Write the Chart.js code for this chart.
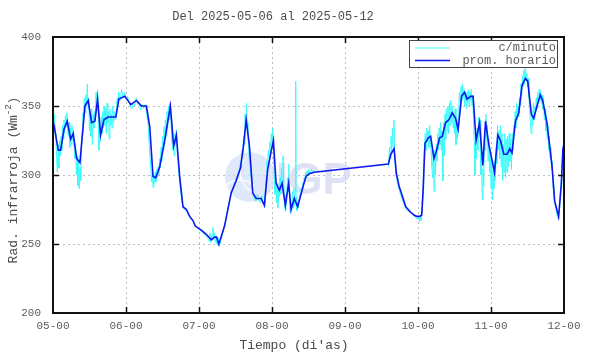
<!DOCTYPE html>
<html>
<head>
<meta charset="utf-8">
<script src="https://cdn.jsdelivr.net/npm/chart.js@4/dist/chart.umd.min.js"></script>
<style>
  html, body { margin: 0; padding: 0; background: #fff; }
  #wrap { width: 590px; height: 354px; }
</style>
</head>
<body>
<div id="wrap"><canvas id="irChart"></canvas></div>
<script>
const chartTitle = 'Del 2025-05-06 al 2025-05-12';
const xTitle = "Tiempo (di'as)";
const seriesLabels = ['c/minuto', 'prom. horario'];
const xTickLabels = ['05-00', '06-00', '07-00', '08-00', '09-00', '10-00', '11-00', '12-00'];
const yTicks = [200, 250, 300, 350, 400];

// prom. horario  [dia, W/m2]
const hourly = [
  [5.000, 338], [5.014, 336], [5.072, 318], [5.105, 318], [5.150, 333], [5.195, 339],
  [5.242, 326], [5.277, 330], [5.324, 312], [5.369, 309], [5.437, 350], [5.482, 354],
  [5.529, 338], [5.574, 339], [5.611, 355], [5.652, 329], [5.697, 340], [5.755, 342],
  [5.861, 342], [5.902, 355], [5.984, 357], [6.066, 351], [6.143, 354], [6.212, 350],
  [6.280, 350], [6.325, 335], [6.370, 299], [6.407, 298], [6.462, 306], [6.530, 325],
  [6.608, 350], [6.653, 321], [6.690, 329], [6.735, 299], [6.766, 284], [6.780, 277],
  [6.827, 275], [6.872, 270], [6.917, 267], [6.949, 263], [7.031, 260], [7.100, 257],
  [7.168, 253], [7.213, 255], [7.240, 255], [7.272, 250], [7.350, 263], [7.441, 287],
  [7.510, 296], [7.568, 305], [7.609, 321], [7.646, 340], [7.691, 321], [7.736, 287],
  [7.783, 283], [7.851, 283], [7.896, 278], [7.941, 304], [7.988, 317], [8.019, 325],
  [8.056, 294], [8.101, 289], [8.138, 294], [8.183, 278], [8.228, 294], [8.261, 275],
  [8.306, 283], [8.351, 277], [8.433, 293], [8.466, 299], [8.511, 301], [8.579, 302],
  [9.594, 308], [9.627, 315], [9.672, 319], [9.704, 301], [9.740, 292], [9.777, 286],
  [9.832, 277], [9.900, 273], [9.945, 271], [9.982, 270], [10.023, 270], [10.051, 271],
  [10.068, 287], [10.096, 323], [10.141, 327], [10.173, 328], [10.219, 312], [10.250, 317],
  [10.296, 327], [10.332, 328], [10.378, 338], [10.423, 340], [10.469, 345], [10.515, 341],
  [10.550, 333], [10.597, 357], [10.638, 360], [10.673, 355], [10.720, 357], [10.755, 357],
  [10.796, 325], [10.843, 338], [10.888, 307], [10.925, 339], [10.970, 322], [11.048, 302],
  [11.093, 329], [11.130, 325], [11.175, 315], [11.220, 315], [11.257, 319], [11.288, 316],
  [11.335, 339], [11.380, 345], [11.425, 365], [11.471, 370], [11.503, 368], [11.553, 344],
  [11.585, 341], [11.630, 350], [11.676, 358], [11.708, 354], [11.766, 338], [11.835, 307],
  [11.872, 281], [11.926, 270], [11.963, 293], [11.985, 319], [12.000, 322]
];

// c/minuto  [dia, W/m2]  (null = sin datos)
const minute = [
  [5.00, 342], [5.01, 336], [5.02, 344], [5.03, 330], [5.04, 326], [5.05, 312], [5.06, 302], [5.07, 322],
  [5.08, 305], [5.09, 325], [5.10, 314], [5.11, 328], [5.12, 318], [5.13, 336], [5.14, 326], [5.15, 340],
  [5.16, 330], [5.17, 343], [5.18, 335], [5.19, 345], [5.20, 332], [5.21, 328], [5.22, 338], [5.23, 320],
  [5.24, 334], [5.25, 322], [5.26, 336], [5.27, 325], [5.28, 333], [5.29, 318], [5.30, 312], [5.31, 322],
  [5.32, 300], [5.33, 314], [5.34, 292], [5.35, 310], [5.36, 290], [5.37, 306], [5.38, 296], [5.39, 318],
  [5.40, 330], [5.41, 345], [5.42, 338], [5.43, 356], [5.44, 345], [5.45, 358], [5.46, 350], [5.47, 366],
  [5.48, 348], [5.49, 356], [5.50, 332], [5.51, 345], [5.52, 328], [5.53, 348], [5.54, 322], [5.55, 344],
  [5.56, 334], [5.57, 346], [5.58, 340], [5.59, 360], [5.60, 348], [5.61, 362], [5.62, 340], [5.63, 318],
  [5.64, 336], [5.65, 324], [5.66, 342], [5.67, 330], [5.68, 346], [5.69, 334], [5.70, 350], [5.71, 336],
  [5.72, 348], [5.73, 330], [5.74, 352], [5.75, 338], [5.76, 346], [5.77, 326], [5.78, 348], [5.79, 336],
  [5.80, 344], [5.81, 334], [5.82, 350], [5.83, 338], [5.84, 346], [5.85, 340], [5.86, 344], [5.87, 350],
  [5.88, 356], [5.89, 352], [5.90, 360], [5.92, 354], [5.94, 362], [5.96, 356], [5.98, 360], [6.00, 355],
  [6.02, 357], [6.04, 353], [6.06, 350], [6.08, 348], [6.10, 352], [6.12, 350], [6.14, 356], [6.16, 351],
  [6.18, 353], [6.20, 347], [6.22, 351], [6.24, 348], [6.26, 351], [6.28, 346], [6.30, 338], [6.32, 320],
  [6.34, 305], [6.35, 295], [6.36, 302], [6.37, 291], [6.38, 300], [6.39, 294], [6.40, 302], [6.41, 295],
  [6.42, 304], [6.43, 298], [6.44, 306], [6.45, 300], [6.46, 312], [6.47, 305], [6.48, 320], [6.49, 310],
  [6.50, 328], [6.51, 318], [6.52, 335], [6.53, 322], [6.54, 340], [6.55, 328], [6.56, 346], [6.57, 334],
  [6.58, 350], [6.59, 340], [6.60, 352], [6.61, 344], [6.62, 336], [6.63, 324], [6.64, 318], [6.65, 326],
  [6.66, 314], [6.67, 330], [6.68, 322], [6.69, 333], [6.70, 320], [6.72, 305], [6.74, 292], [6.76, 283],
  [6.78, 277], [6.80, 275], [6.83, 274], [6.86, 271], [6.89, 268], [6.92, 267], [6.95, 263], [6.98, 262],
  [7.01, 260], [7.04, 259], [7.07, 257], [7.10, 256], [7.12, 254], [7.14, 252], [7.15, 258], [7.16, 251],
  [7.17, 256], [7.18, 253], [7.19, 262], [7.20, 254], [7.21, 258], [7.22, 252], [7.23, 256], [7.24, 250],
  [7.25, 255], [7.26, 249], [7.27, 251], [7.28, 248], [7.30, 253], [7.33, 259], [7.36, 266], [7.40, 277],
  [7.44, 287], [7.48, 293], [7.52, 299], [7.55, 303], [7.57, 310], [7.58, 305], [7.59, 318], [7.60, 314],
  [7.61, 328], [7.62, 322], [7.63, 344], [7.64, 334], [7.65, 352], [7.66, 338], [7.67, 330], [7.68, 318],
  [7.69, 312], [7.70, 306], [7.72, 296], [7.74, 287], [7.76, 283], [7.78, 281], [7.80, 286], [7.82, 282],
  [7.84, 280], [7.86, 285], [7.88, 280], [7.90, 276], [7.91, 290], [7.92, 300], [7.93, 310], [7.94, 304],
  [7.95, 318], [7.96, 312], [7.97, 324], [7.98, 316], [7.99, 330], [8.00, 322], [8.01, 334], [8.02, 318],
  [8.03, 300], [8.04, 286], [8.05, 296], [8.06, 280], [8.07, 294], [8.08, 276], [8.09, 290], [8.10, 284],
  [8.11, 298], [8.12, 286], [8.13, 305], [8.14, 292], [8.15, 314], [8.16, 294], [8.17, 282], [8.18, 274],
  [8.19, 286], [8.20, 280], [8.21, 298], [8.22, 288], [8.23, 308], [8.24, 282], [8.25, 272], [8.26, 280],
  [8.27, 274], [8.28, 288], [8.29, 276], [8.30, 290], [8.31, 278], [8.32, 292], [8.325, 368], [8.33, 284],
  [8.34, 274], [8.35, 280], [8.36, 276], [8.37, 282], [8.38, 286], [8.39, 284], [8.40, 290], [8.41, 288],
  [8.42, 294], [8.43, 291], [8.44, 298], [8.45, 295], [8.46, 302], [8.47, 298], [8.48, 303], [8.49, 300],
  [8.50, 304], [8.52, 301], [8.54, 304], [8.56, 302], [8.58, 303], [9.00, null],
  [9.59, 306], [9.60, 310], [9.61, 320], [9.62, 312], [9.63, 328], [9.64, 316], [9.65, 334], [9.66, 320],
  [9.67, 340], [9.68, 318], [9.69, 305], [9.70, 300], [9.72, 294], [9.74, 290], [9.76, 286], [9.78, 283],
  [9.80, 280], [9.83, 276], [9.86, 274], [9.89, 273], [9.92, 272], [9.95, 270], [9.97, 269], [9.99, 268],
  [10.01, 270], [10.02, 266], [10.03, 271], [10.04, 267], [10.05, 272], [10.06, 276], [10.07, 290], [10.08, 310],
  [10.09, 322], [10.10, 330], [10.11, 318], [10.12, 334], [10.13, 324], [10.14, 332], [10.15, 320], [10.16, 336],
  [10.17, 322], [10.18, 318], [10.19, 306], [10.20, 298], [10.21, 310], [10.22, 288], [10.23, 318], [10.24, 300],
  [10.25, 322], [10.26, 310], [10.27, 330], [10.28, 318], [10.29, 334], [10.30, 322], [10.31, 338], [10.32, 318],
  [10.33, 332], [10.34, 296], [10.35, 338], [10.36, 314], [10.37, 344], [10.38, 326], [10.39, 348], [10.40, 332],
  [10.41, 350], [10.42, 330], [10.43, 352], [10.44, 336], [10.45, 354], [10.46, 338], [10.47, 350], [10.48, 334],
  [10.49, 346], [10.50, 330], [10.51, 348], [10.52, 322], [10.53, 340], [10.54, 326], [10.55, 342], [10.56, 352],
  [10.57, 360], [10.58, 352], [10.59, 364], [10.60, 354], [10.61, 366], [10.62, 356], [10.63, 362], [10.64, 350],
  [10.65, 358], [10.66, 348], [10.67, 360], [10.68, 352], [10.69, 362], [10.70, 350], [10.71, 360], [10.72, 354],
  [10.73, 362], [10.74, 350], [10.75, 358], [10.76, 340], [10.77, 324], [10.78, 300], [10.79, 320], [10.80, 312],
  [10.81, 334], [10.82, 318], [10.83, 342], [10.84, 328], [10.85, 340], [10.86, 300], [10.87, 318], [10.88, 282],
  [10.89, 304], [10.90, 292], [10.91, 330], [10.92, 318], [10.93, 344], [10.94, 326], [10.95, 336], [10.96, 310],
  [10.97, 326], [10.98, 302], [10.99, 318], [11.00, 290], [11.01, 312], [11.02, 282], [11.03, 304], [11.04, 290],
  [11.05, 310], [11.06, 296], [11.07, 320], [11.08, 308], [11.09, 336], [11.10, 318], [11.11, 332], [11.12, 312],
  [11.13, 336], [11.14, 306], [11.15, 330], [11.16, 296], [11.17, 322], [11.18, 302], [11.19, 330], [11.20, 298],
  [11.21, 326], [11.22, 302], [11.23, 328], [11.24, 306], [11.25, 330], [11.26, 310], [11.27, 326], [11.28, 304],
  [11.29, 330], [11.30, 318], [11.31, 336], [11.32, 330], [11.33, 346], [11.34, 334], [11.35, 352], [11.36, 340],
  [11.37, 350], [11.38, 342], [11.39, 356], [11.40, 350], [11.41, 366], [11.42, 358], [11.43, 372], [11.44, 364],
  [11.45, 376], [11.46, 366], [11.47, 382], [11.48, 368], [11.49, 374], [11.50, 364], [11.51, 370], [11.52, 356],
  [11.53, 348], [11.54, 338], [11.55, 330], [11.56, 346], [11.57, 336], [11.58, 352], [11.59, 340], [11.60, 350],
  [11.61, 344], [11.62, 356], [11.63, 348], [11.64, 360], [11.65, 352], [11.66, 362], [11.67, 354], [11.68, 360],
  [11.69, 352], [11.70, 358], [11.71, 348], [11.72, 356], [11.73, 340], [11.74, 348], [11.75, 332], [11.76, 342],
  [11.77, 326], [11.78, 336], [11.79, 318], [11.80, 328], [11.81, 312], [11.82, 320], [11.83, 304], [11.84, 310],
  [11.85, 292], [11.86, 286], [11.87, 282], [11.88, 278], [11.89, 276], [11.90, 272], [11.91, 270], [11.92, 268],
  [11.93, 272], [11.94, 276], [11.95, 288], [11.96, 296], [11.97, 305], [11.98, 312], [11.99, 320], [12.00, 334]
];

const FONT = "'Liberation Mono', 'DejaVu Sans Mono', monospace";
const TEXT = '#5c5c5c';

const gnuFrame = {
  id: 'gnuFrame',
  beforeDatasetsDraw(chart) {
    // marca de agua IGP
    const ctx = chart.ctx;
    ctx.save();
    ctx.fillStyle = 'rgba(214, 226, 250, 0.75)';
    ctx.beginPath();
    ctx.arc(250, 177, 25, 0, Math.PI * 2);
    ctx.fill();
    ctx.strokeStyle = 'rgba(255,255,255,0.9)';
    ctx.lineWidth = 1.5;
    ctx.beginPath();
    ctx.arc(262, 172, 22, Math.PI * 0.62, Math.PI * 1.2);
    ctx.stroke();
    ctx.beginPath();
    ctx.arc(240, 200, 20, Math.PI * 1.25, Math.PI * 1.75);
    ctx.stroke();
    ctx.fillStyle = 'rgba(218, 218, 244, 0.8)';
    ctx.font = "bold 44px 'Liberation Sans', Arial, sans-serif";
    ctx.textBaseline = 'alphabetic';
    ctx.fillText('IGP', 276, 194);
    ctx.restore();
  },
  afterDraw(chart) {
    const ctx = chart.ctx;
    const a = chart.chartArea;
    const xs = chart.scales.x;
    const ys = chart.scales.y;
    ctx.save();

    // marco y marcas interiores
    ctx.strokeStyle = '#111';
    ctx.lineWidth = 1.5;
    ctx.beginPath();
    for (let d = 6; d < 12; d++) {
      const px = Math.round(xs.getPixelForValue(d)) + 0.5;
      ctx.moveTo(px, a.bottom); ctx.lineTo(px, a.bottom - 6);
      ctx.moveTo(px, a.top); ctx.lineTo(px, a.top + 6);
    }
    yTicks.slice(1, -1).forEach(v => {
      const py = Math.round(ys.getPixelForValue(v)) + 0.5;
      ctx.moveTo(a.left, py); ctx.lineTo(a.left + 6, py);
      ctx.moveTo(a.right, py); ctx.lineTo(a.right - 6, py);
    });
    ctx.stroke();
    ctx.lineWidth = 2;
    ctx.strokeRect(a.left, a.top, a.right - a.left, a.bottom - a.top);

    // leyenda
    const lx = 409, ly = 40, lw = 148, lh = 27;
    ctx.fillStyle = '#fff';
    ctx.fillRect(lx, ly, lw, lh);
    ctx.strokeStyle = '#444';
    ctx.lineWidth = 1;
    ctx.strokeRect(lx + 0.5, ly + 0.5, lw, lh);
    ctx.font = '12px ' + FONT;
    ctx.textAlign = 'right';
    ctx.textBaseline = 'middle';
    chart.data.datasets.forEach((ds, i) => {
      const yy = ly + 8 + i * 12.5;
      ctx.strokeStyle = ds.borderColor;
      ctx.lineWidth = ds.borderWidth;
      ctx.beginPath();
      ctx.moveTo(lx + 6, yy); ctx.lineTo(lx + 41, yy);
      ctx.stroke();
      ctx.fillStyle = TEXT;
      ctx.fillText(ds.label, lx + lw - 1, yy);
    });

    // titulos
    ctx.fillStyle = '#4a4a4a';
    ctx.textAlign = 'center';
    ctx.font = '12px ' + FONT;
    ctx.fillText(chartTitle, 273, 17);
    ctx.font = '13px ' + FONT;
    ctx.fillText(xTitle, 294, 346);

    // eje y con superindice
    ctx.translate(14, 180);
    ctx.rotate(-Math.PI / 2);
    ctx.font = '13px ' + FONT;
    const main = 'Rad. infrarroja (Wm';
    const sup = '-2';
    const wMain = ctx.measureText(main).width;
    ctx.font = '9px ' + FONT;
    const wSup = ctx.measureText(sup).width;
    ctx.font = '13px ' + FONT;
    const wEnd = ctx.measureText(')').width;
    let x0 = -(wMain + wSup + wEnd) / 2;
    ctx.textAlign = 'left';
    ctx.fillText(main, x0, 0);
    ctx.font = '9px ' + FONT;
    ctx.fillText(sup, x0 + wMain, -5);
    ctx.font = '13px ' + FONT;
    ctx.fillText(')', x0 + wMain + wSup, 0);
    ctx.restore();
  }
};

new Chart(document.getElementById('irChart'), {
  type: 'line',
  data: {
    datasets: [{
      label: seriesLabels[0],
      data: minute.map(p => ({ x: p[0], y: p[1] })),
      borderColor: '#3cfafa',
      borderWidth: 1,
      pointRadius: 0,
      tension: 0,
      spanGaps: false,
      order: 2
    }, {
      label: seriesLabels[1],
      data: hourly.map(p => ({ x: p[0], y: p[1] })),
      borderColor: '#0a18ee',
      borderWidth: 1.6,
      pointRadius: 0,
      tension: 0,
      order: 1
    }]
  },
  options: {
    responsive: true,
    maintainAspectRatio: false,
    animation: false,
    layout: {
      padding: { top: 37, right: 26, left: 0, bottom: 0 }
    },
    scales: {
      x: {
        type: 'linear',
        min: 5,
        max: 12,
        afterFit: (scale) => { scale.height = 41; },
        afterBuildTicks: (scale) => {
          scale.ticks = xTickLabels.map((l, i) => ({ value: 5 + i }));
        },
        grid: {
          color: '#bdbdbd',
          lineWidth: 1,
          drawTicks: false
        },
        border: { display: false, dash: [2, 3] },
        ticks: {
          padding: 6,
          maxRotation: 0,
          autoSkip: false,
          color: TEXT,
          font: { family: FONT, size: 11 },
          callback: (value) => xTickLabels[Math.round(value) - 5]
        }
      },
      y: {
        min: 200,
        max: 400,
        afterFit: (scale) => { scale.width = 53; },
        afterBuildTicks: (scale) => {
          scale.ticks = yTicks.map(v => ({ value: v }));
        },
        grid: {
          color: '#bdbdbd',
          lineWidth: 1,
          drawTicks: false
        },
        border: { display: false, dash: [2, 3] },
        ticks: {
          padding: 12,
          color: TEXT,
          font: { family: FONT, size: 11 },
          callback: (value) => String(value)
        }
      }
    },
    plugins: {
      legend: { display: false },
      title: { display: false },
      tooltip: { enabled: false }
    }
  },
  plugins: [gnuFrame]
});
</script>
</body>
</html>
